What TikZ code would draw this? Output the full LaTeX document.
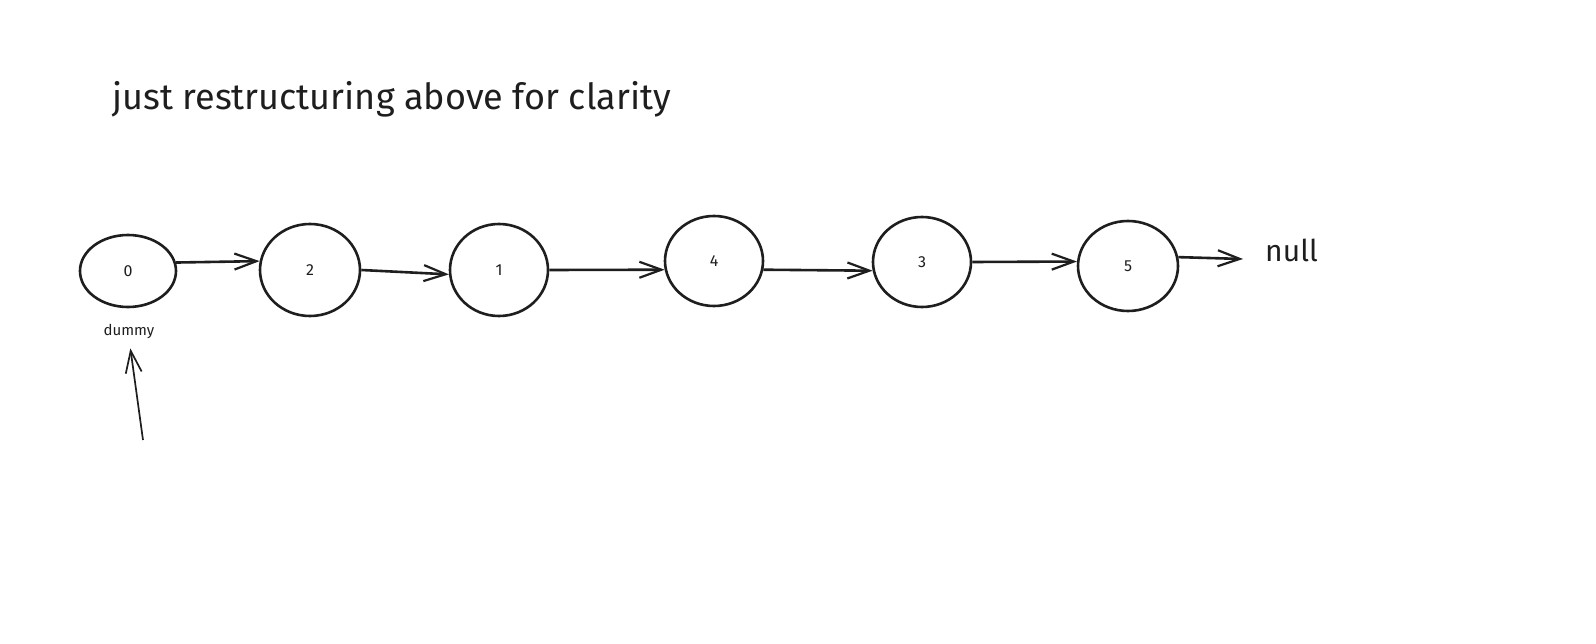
\documentclass[tikz,border=0pt]{standalone}
\usepackage{fontspec}
\setmainfont{Fira Sans}
\usetikzlibrary{shapes.geometric,arrows.meta}
\definecolor{ink}{HTML}{1E1E1E}
\begin{document}
\begin{tikzpicture}[x=1pt,y=-1pt,
  lnode/.style={draw=ink, line width=2.6pt, ellipse, inner sep=0pt, text=ink, font=\fontsize{16}{19}\selectfont},
  link/.style={draw=ink, line width=2.6pt, -{Straight Barb[length=22pt,width=16pt,line width=2.2pt]}},
  ptrlink/.style={draw=ink, line width=1.7pt, -{Straight Barb[length=22pt,width=16pt,line width=1.7pt]}},
  lbl/.style={text=ink, inner sep=0pt}]
\path[use as bounding box, fill=white] (0,0) rectangle (1596,644);
\node[lbl, anchor=base west, font=\fontsize{36}{42}\selectfont] (title) at (112,110) {just restructuring above for clarity};
\node[lnode, minimum width=96pt, minimum height=72pt] (n0) at (128,271) {0};
\node[lnode, minimum width=100pt, minimum height=92pt] (n2) at (310,270) {2};
\node[lnode, minimum width=98pt, minimum height=92pt] (n1) at (499,270) {1};
\node[lnode, minimum width=98pt, minimum height=90pt] (n4) at (714,261) {4};
\node[lnode, minimum width=98pt, minimum height=90pt] (n3) at (922,262) {3};
\node[lnode, minimum width=100pt, minimum height=90pt] (n5) at (1128,266) {5};
\node[lbl, anchor=west, font=\fontsize{30}{36}\selectfont] (null) at (1265,250) {null};
\node[lbl, font=\fontsize{15}{18}\selectfont] (dummy) at (129,331) {dummy};
\coordinate (nullend) at (1243,259);
\coordinate (ptr) at (143,440);
\draw[link] (n0.10) -- (n2.170);
\draw[link] (n2.east) -- (n1.185);
\draw[link] (n1.east) -- (n4.190);
\draw[link] (n4.-10) -- (n3.190);
\draw[link] (n3.east) -- (n5.175);
\draw[link] (n5.10) -- (nullend);
\draw[ptrlink, shorten >=10pt] (ptr) -- (dummy.south);
\end{tikzpicture}
\end{document}
